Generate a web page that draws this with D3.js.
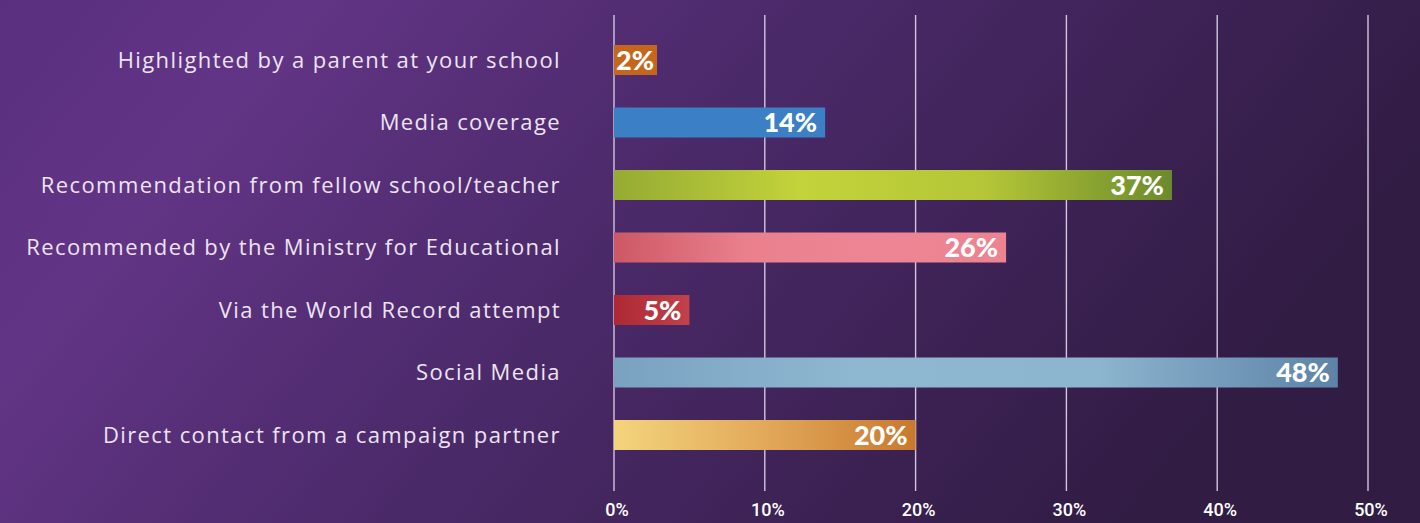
<!DOCTYPE html>
<html>
<head>
<script src="https://cdn.jsdelivr.net/npm/d3@7"></script>
<style>
  html, body { margin: 0; padding: 0; overflow: hidden; }
  body { width: 1420px; height: 523px; }
</style>
</head>
<body>
<div id="canvas"></div>
<script>
// data
const categories = [
  'Highlighted by a parent at your school',
  'Media coverage',
  'Recommendation from fellow school/teacher',
  'Recommended by the Ministry for Educational',
  'Via the World Record attempt',
  'Social Media',
  'Direct contact from a campaign partner'
];
const values = [2, 14, 37, 26, 5, 48, 20];
const ticks = [0, 10, 20, 30, 40, 50];

// bar fills, one gradient per bar (stops left -> right)
const barStops = [
  ['#c4661c', '#c4661c'],
  ['#3b7fc4', '#3b80c5'],
  ['#95ab33', '#c3d33b', '#b4c637', '#6b8a2d'],
  ['#cd5865', '#e9808c', '#ee8594', '#ec8390'],
  ['#ad2833', '#c2414b'],
  ['#78a2c0', '#8eb8d1', '#8cb5cf', '#5d83a7'],
  ['#f3d47c', '#e2a95a', '#c8792e']
];

const w = 1420, h = 523;
const svg = d3.select('#canvas').append('svg')
  .attr('width', w).attr('height', h);

const defs = svg.append('defs');
const bg = defs.append('linearGradient').attr('id', 'bg')
  .attr('x1', 0).attr('x2', 1).attr('y1', 0).attr('y2', 0.3);
[['0%', '#5a2f7f'], ['20%', '#623485'], ['50%', '#4c2a6b'], ['100%', '#311c44']]
  .forEach(s => bg.append('stop').attr('offset', s[0]).attr('stop-color', s[1]));

barStops.forEach((stops, i) => {
  const g = defs.append('linearGradient').attr('id', 'bar' + i)
    .attr('x1', 0).attr('x2', 1).attr('y1', 0).attr('y2', 0);
  stops.forEach((c, j) => g.append('stop')
    .attr('offset', j / (stops.length - 1))
    .attr('stop-color', c));
});

svg.append('rect').attr('width', w).attr('height', h).attr('fill', 'url(#bg)');

const x = d3.scaleLinear().domain([0, 50]).range([614, 1368]);
const y = d3.scaleBand().domain(categories)
  .range([28.75, 466.25]).paddingInner(0.52).paddingOuter(0.26);

// grid lines
svg.append('g').selectAll('line')
  .data(ticks).enter().append('line')
  .attr('x1', d => x(d)).attr('x2', d => x(d))
  .attr('y1', 15).attr('y2', 491)
  .attr('stroke', '#d2c6de').attr('stroke-width', 1.4);

// tick labels
svg.append('g').selectAll('text')
  .data(ticks).enter().append('text')
  .attr('x', d => x(d) + 3).attr('y', 516)
  .attr('text-anchor', 'middle')
  .attr('font-family', 'Roboto').attr('font-weight', 500)
  .attr('font-size', '18px').attr('fill', '#ffffff')
  .text(d => d + '%');

// category labels
svg.append('g').selectAll('text')
  .data(categories).enter().append('text')
  .attr('x', 561).attr('y', d => y(d) + y.bandwidth() / 2)
  .attr('dy', '0.35em')
  .attr('text-anchor', 'end')
  .attr('font-family', 'Open Sans').attr('font-weight', 400)
  .attr('font-size', '22px').attr('fill', '#ece4f2')
  .attr('letter-spacing', '1.4px')
  .text(d => d);

// bars + value labels
const rows = svg.append('g').selectAll('g')
  .data(values).enter().append('g');

const labels = rows.append('text')
  .attr('y', (d, i) => y(categories[i]) + y.bandwidth() / 2)
  .attr('dy', '0.36em')
  .attr('text-anchor', 'end')
  .attr('font-family', 'Lato').attr('font-weight', 900)
  .attr('font-size', '27px').attr('fill', '#ffffff')
  .text(d => d + '%');

labels.each(function(d, i) {
  const tw = this.getComputedTextLength();
  const bw = Math.max(x(d) - x(0), tw + 5);
  const pad = bw > tw + 16 ? 8 : 3;
  d3.select(this.parentNode).insert('rect', 'text')
    .attr('x', x(0))
    .attr('y', y(categories[i]))
    .attr('width', bw)
    .attr('height', y.bandwidth())
    .attr('fill', 'url(#bar' + i + ')');
  d3.select(this).attr('x', x(0) + bw - pad);
});
</script>
</body>
</html>
